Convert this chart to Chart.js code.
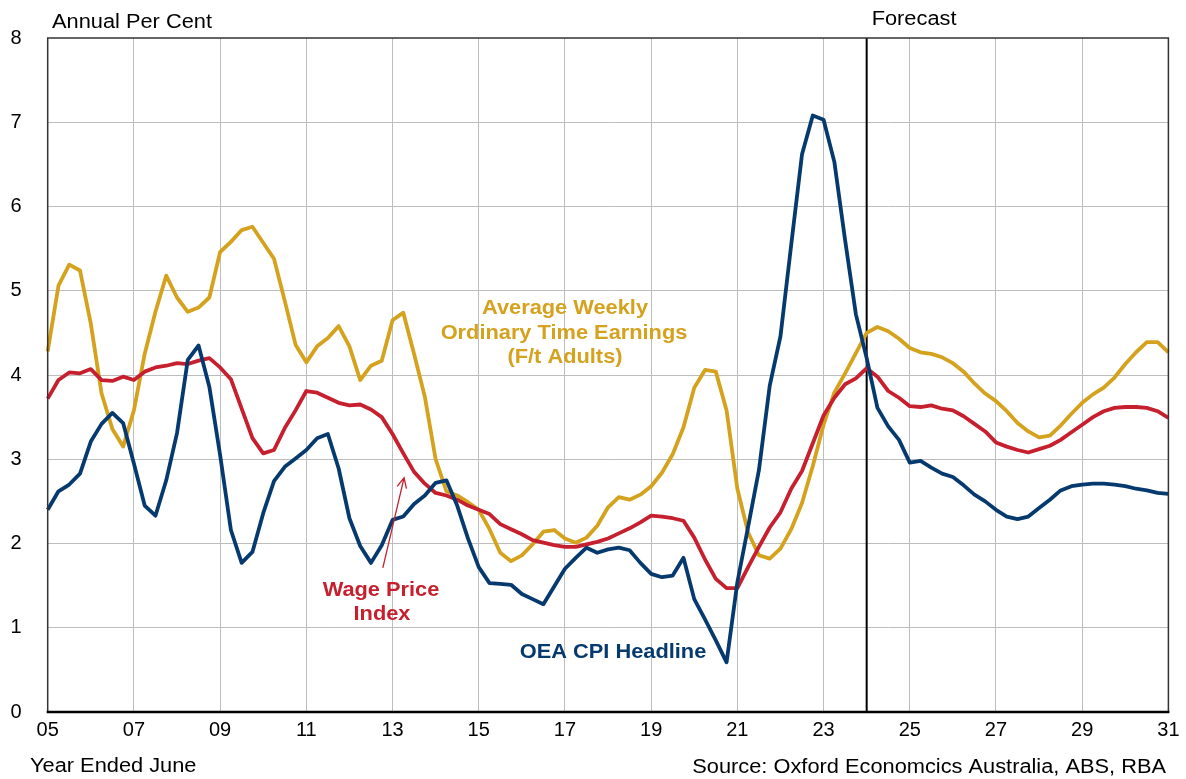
<!DOCTYPE html>
<html>
<head>
<meta charset="utf-8">
<script src="https://cdn.jsdelivr.net/npm/chart.js@4.4.1/dist/chart.umd.min.js"></script>
<style>
  html, body { margin: 0; padding: 0; background: #fff; }
  #wrap { width: 1186px; height: 779px; position: relative; }
</style>
</head>
<body>
<div id="wrap"><canvas id="canvas" width="1186" height="779"></canvas></div>
<script>
// quarterly, year ended June 2005 .. June 2031
var quarters = [];
var months = ['Jun', 'Sep', 'Dec', 'Mar'];
for (var i = 0; i <= 104; i++) {
  var yr = 2005 + Math.floor((i + 1) / 4);
  quarters.push(months[i % 4] + '-' + String(yr % 100).padStart(2, '0'));
}

var forecastStart = 'Jun-24';

var cpi = [
  2.40, 2.62, 2.70, 2.83, 3.21, 3.42, 3.55, 3.43, 2.95, 2.45,
  2.33, 2.75, 3.31, 4.18, 4.35, 3.86, 3.05, 2.16, 1.77, 1.90,
  2.36, 2.74, 2.91, 3.01, 3.11, 3.25, 3.30, 2.89, 2.30, 1.97,
  1.77, 1.98, 2.28, 2.32, 2.47, 2.57, 2.72, 2.75, 2.45, 2.06,
  1.72, 1.53, 1.52, 1.51, 1.40, 1.34, 1.28, 1.49, 1.70, 1.83,
  1.95, 1.89, 1.93, 1.95, 1.92, 1.77, 1.64, 1.60, 1.62, 1.83,
  1.34, 1.10, 0.85, 0.59, 1.54, 2.20, 2.87, 3.87, 4.46, 5.55,
  6.62, 7.08, 7.03, 6.53, 5.60, 4.72, 4.20, 3.61, 3.39, 3.23,
  2.96, 2.98, 2.90, 2.83, 2.79, 2.69, 2.58, 2.50, 2.40, 2.32,
  2.29, 2.32, 2.42, 2.52, 2.63, 2.68, 2.70, 2.71, 2.71, 2.70,
  2.68, 2.65, 2.63, 2.60, 2.59
];

var wpi = [
  3.72, 3.94, 4.03, 4.02, 4.07, 3.94, 3.93, 3.98, 3.94, 4.04,
  4.09, 4.11, 4.14, 4.13, 4.17, 4.20, 4.09, 3.95, 3.60, 3.25,
  3.07, 3.11, 3.37, 3.58, 3.81, 3.79, 3.73, 3.67, 3.64, 3.65,
  3.59, 3.50, 3.30, 3.07, 2.85, 2.71, 2.60, 2.57, 2.52, 2.45,
  2.40, 2.35, 2.23, 2.17, 2.11, 2.04, 2.01, 1.98, 1.96, 1.96,
  1.99, 2.02, 2.06, 2.12, 2.18, 2.25, 2.33, 2.32, 2.30, 2.27,
  2.07, 1.81, 1.58, 1.47, 1.47, 1.72, 1.96, 2.19, 2.37, 2.65,
  2.86, 3.19, 3.52, 3.73, 3.89, 3.96, 4.08, 3.98, 3.81, 3.73,
  3.63, 3.62, 3.64, 3.60, 3.58, 3.51, 3.42, 3.33, 3.20, 3.15,
  3.11, 3.08, 3.12, 3.16, 3.23, 3.32, 3.41, 3.50, 3.57, 3.61,
  3.62, 3.62, 3.61, 3.57, 3.49
];

var awote = [
  4.28, 5.06, 5.31, 5.24, 4.61, 3.78, 3.36, 3.15, 3.58, 4.25,
  4.75, 5.18, 4.92, 4.75, 4.80, 4.92, 5.46, 5.58, 5.72, 5.76,
  5.57, 5.38, 4.88, 4.36, 4.15, 4.34, 4.44, 4.58, 4.34, 3.94,
  4.11, 4.17, 4.65, 4.74, 4.25, 3.74, 3.00, 2.62, 2.57, 2.49,
  2.40, 2.17, 1.89, 1.79, 1.86, 1.99, 2.14, 2.16, 2.06, 2.01,
  2.07, 2.21, 2.43, 2.55, 2.52, 2.58, 2.68, 2.84, 3.06, 3.38,
  3.85, 4.06, 4.04, 3.58, 2.65, 2.13, 1.86, 1.82, 1.94, 2.17,
  2.48, 2.92, 3.41, 3.79, 4.02, 4.26, 4.50, 4.57, 4.52, 4.43,
  4.32, 4.27, 4.25, 4.21, 4.14, 4.04, 3.90, 3.78, 3.69, 3.57,
  3.43, 3.33, 3.26, 3.28, 3.40, 3.54, 3.67, 3.77, 3.85, 3.97,
  4.13, 4.27, 4.39, 4.39, 4.27
];

var yTicks = [0, 1, 2, 3, 4, 5, 6, 7, 8];

var navy = '#063A6E';
var red = '#C61F2D';
var gold = '#D5A21E';
var font = '"Liberation Sans", Arial, sans-serif';

// the source picture is a bit wider than tall, so the text is stretched too
function wideText(ctx, text, x, y, align) {
  ctx.save();
  ctx.translate(x, y);
  ctx.scale(1.09, 1);
  ctx.textAlign = align;
  ctx.fillText(text, 0, 0);
  ctx.restore();
}

// labels, arrow etc drawn on top of the chart
var overlay = {
  id: 'overlay',
  beforeDatasetsDraw: function(chart) {
    var ctx = chart.ctx, a = chart.chartArea;
    var fx = chart.scales.x.getPixelForValue(quarters.indexOf(forecastStart));
    ctx.save();
    ctx.strokeStyle = '#000';
    ctx.lineWidth = 2;
    ctx.beginPath();
    ctx.moveTo(fx, a.top);
    ctx.lineTo(fx, a.bottom);
    ctx.stroke();
    ctx.restore();
  },
  afterDraw: function(chart) {
    var ctx = chart.ctx, a = chart.chartArea;
    var xs = chart.scales.x, ys = chart.scales.y;
    ctx.save();

    // plot frame
    ctx.strokeStyle = '#333';
    ctx.lineWidth = 1.5;
    ctx.beginPath();
    ctx.moveTo(a.left, a.bottom);
    ctx.lineTo(a.left, a.top);
    ctx.lineTo(a.right, a.top);
    ctx.lineTo(a.right, a.bottom);
    ctx.stroke();
    ctx.strokeStyle = '#000';
    ctx.lineWidth = 2.5;
    ctx.beginPath();
    ctx.moveTo(a.left - 1, a.bottom);
    ctx.lineTo(a.right + 1, a.bottom);
    ctx.stroke();

    ctx.textBaseline = 'middle';
    ctx.fillStyle = '#000';
    ctx.font = '20px ' + font;
    wideText(ctx, 'Annual Per Cent', 52, 22, 'left');
    var fx = xs.getPixelForValue(quarters.indexOf(forecastStart));
    wideText(ctx, 'Forecast', fx + 5, 19, 'left');
    wideText(ctx, 'Year Ended June', 30, 766, 'left');
    wideText(ctx, 'Source: Oxford Economcics Australia, ABS, RBA', 1166, 767, 'right');

    // series labels
    ctx.font = 'bold 20px ' + font;
    ctx.fillStyle = gold;
    wideText(ctx, 'Average Weekly', 565, 308, 'center');
    wideText(ctx, 'Ordinary Time Earnings', 564, 333, 'center');
    wideText(ctx, '(F/t Adults)', 565, 357, 'center');
    ctx.fillStyle = red;
    wideText(ctx, 'Wage Price', 381, 590, 'center');
    wideText(ctx, 'Index', 382, 614, 'center');
    ctx.fillStyle = navy;
    wideText(ctx, 'OEA CPI Headline', 613, 652, 'center');

    // arrow to the wage price index line
    var x0 = xs.getPixelForValue(31.1), y0 = ys.getPixelForValue(1.71);
    var x1 = xs.getPixelForValue(33.07), y1 = ys.getPixelForValue(2.78);
    var ang = Math.atan2(y1 - y0, x1 - x0);
    ctx.strokeStyle = red;
    ctx.lineWidth = 1.3;
    ctx.beginPath();
    ctx.moveTo(x0, y0);
    ctx.lineTo(x1, y1);
    ctx.moveTo(x1 - 11 * Math.cos(ang - 0.45), y1 - 11 * Math.sin(ang - 0.45));
    ctx.lineTo(x1, y1);
    ctx.lineTo(x1 - 11 * Math.cos(ang + 0.45), y1 - 11 * Math.sin(ang + 0.45));
    ctx.stroke();

    ctx.restore();
  }
};

function line(label, data, color) {
  return {
    label: label,
    data: data,
    borderColor: color,
    backgroundColor: color,
    borderWidth: 3.8,
    pointRadius: 0,
    tension: 0,
    fill: false,
    borderJoinStyle: 'round'
  };
}

var config = {
  type: 'line',
  data: {
    labels: quarters,
    datasets: [
      line('OEA CPI Headline', cpi, navy),
      line('Wage Price Index', wpi, red),
      line('Average Weekly Ordinary Time Earnings (F/t Adults)', awote, gold)
    ]
  },
  options: {
    responsive: false,
    animation: false,
    layout: { padding: { left: 0, top: 37.7, right: 17.6, bottom: 0 } },
    plugins: { legend: { display: false }, tooltip: { enabled: false } },
    scales: {
      x: {
        type: 'category',
        offset: false,
        afterFit: function(s) { s.height = 67; },
        border: { display: false },
        grid: {
          drawTicks: false,
          lineWidth: 1,
          color: function(c) {
            var i = c.index;
            return (i % 8 === 0 && i > 0 && i < quarters.length - 1) ? '#BDBDBD' : 'rgba(0,0,0,0)';
          }
        },
        ticks: {
          autoSkip: false,
          maxRotation: 0,
          padding: 6,
          color: '#000',
          font: { family: font, size: 20 },
          callback: function(v, i) {
            return i % 8 === 0 ? quarters[i].slice(4) : '';
          }
        }
      },
      y: {
        min: yTicks[0],
        max: yTicks[yTicks.length - 1],
        afterFit: function(s) { s.width = 47.7; },
        afterBuildTicks: function(s) { s.ticks = yTicks.map(function(v) { return { value: v }; }); },
        border: { display: false },
        grid: {
          drawTicks: false,
          lineWidth: 1,
          color: function(c) {
            var v = c.tick.value;
            return (v > yTicks[0] && v < yTicks[yTicks.length - 1]) ? '#BDBDBD' : 'rgba(0,0,0,0)';
          }
        },
        ticks: {
          padding: 26,
          color: '#000',
          font: { family: font, size: 20 }
        }
      }
    }
  },
  plugins: [overlay]
};

new Chart(document.getElementById('canvas'), config);
</script>
</body>
</html>
